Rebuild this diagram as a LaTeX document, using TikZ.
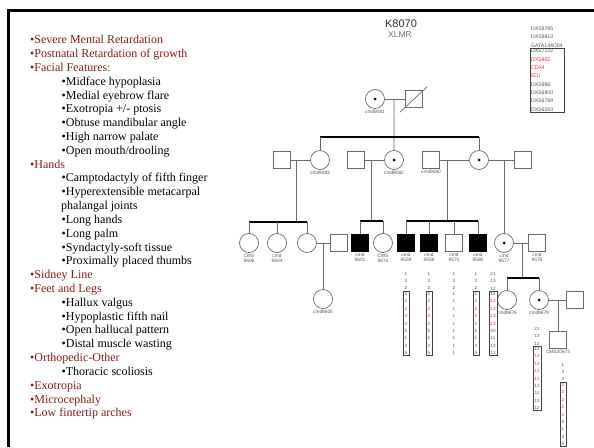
\documentclass[tikz,border=0pt]{standalone}
\usepackage{fontspec}
\setmainfont{Liberation Serif}
\setsansfont{Liberation Sans}
\usepackage{xcolor}
\usetikzlibrary{calc,positioning}
\definecolor{traitred}{RGB}{140,24,24}
\definecolor{pedgray}{RGB}{105,105,105}
\definecolor{labgray}{RGB}{85,85,85}
\definecolor{hapred}{RGB}{225,40,60}
\newcommand\rd[1]{\textcolor{hapred}{#1}}
\newcommand\traitA[1]{\textcolor{traitred}{•#1}}
\newcommand\traitB[1]{\hspace*{31.5pt}•#1}
\tikzset{
  male/.style={draw=pedgray, line width=0.7pt, fill=white, minimum size=17pt, inner sep=0pt},
  affected/.style={male, fill=black, draw=black},
  female/.style={draw=pedgray, line width=0.7pt, fill=white, circle, minimum size=19pt, inner sep=0pt},
  carrier/.style={female, path picture={\fill[black] (path picture bounding box.center) circle (1.5pt);}},
  idlabel/.style={font=\sffamily\fontsize{4.8}{5.8}\selectfont, text=labgray, inner sep=0.6pt, align=center},
  couple/.style={draw=pedgray, line width=0.7pt},
  sibship/.style={draw=black, line width=1.5pt},
  hapnum/.style={font=\sffamily\fontsize{4.6}{7.4}\selectfont, text=labgray, align=center, inner sep=0.8pt},
  hapbox/.style={hapnum, draw=black!75, line width=0.5pt, inner xsep=1.5pt},
  mknum/.style={font=\sffamily\fontsize{5.2}{8.3}\selectfont, text=labgray, align=left, inner sep=0.8pt, text width=32pt},
  mkbox/.style={mknum, draw=black!75, line width=0.5pt},
  traits/.style={font=\fontsize{12}{13.82}\selectfont, align=left, inner sep=0pt}
}

\begin{document}
\begin{tikzpicture}[x=1pt,y=-1pt]
  \useasboundingbox (0,0) rectangle (594,447);
  % slide frame
  \draw[line width=3pt] (8,447) -- (8,10) -- (594,10);

  % clinical features
  \node[traits, anchor=north west] (traits) at (30,35.2) {%
    \traitA{Severe Mental Retardation}\\
    \traitA{Postnatal Retardation of growth}\\
    \traitA{Facial Features:}\\
    \traitB{Midface hypoplasia}\\
    \traitB{Medial eyebrow flare}\\
    \traitB{Exotropia +/- ptosis}\\
    \traitB{Obtuse mandibular angle}\\
    \traitB{High narrow palate}\\
    \traitB{Open mouth/drooling}\\
    \traitA{Hands}\\
    \traitB{Camptodactyly of fifth finger}\\
    \traitB{Hyperextensible metacarpal}\\
    \hspace*{31pt}phalangal joints\\
    \traitB{Long hands}\\
    \traitB{Long palm}\\
    \traitB{Syndactyly-soft tissue}\\
    \traitB{Proximally placed thumbs}\\
    \traitA{Sidney Line}\\
    \traitA{Feet and Legs}\\
    \traitB{Hallux valgus}\\
    \traitB{Hypoplastic fifth nail}\\
    \traitB{Open hallucal pattern}\\
    \traitB{Distal muscle wasting}\\
    \traitA{Orthopedic-Other}\\
    \traitB{Thoracic scoliosis}\\
    \traitA{Exotropia}\\
    \traitA{Microcephaly}\\
    \traitA{Low fintertip arches}};

  % title
  \node[font=\sffamily\fontsize{11}{12}\selectfont, text=black!80] (title) at (401,24) {K8070};
  \node[font=\sffamily\fontsize{8.5}{9}\selectfont, text=black!55] (subtitle) at (400,35) {XLMR};

  % marker list
  \node[mknum, anchor=north] (mkt) at (547,26) {DXS8795\\DXS8810\\GATA144D04};
  \node[mkbox, below=0pt of mkt] (mkb) {DXS7132\\\rd{DXS802}\\\rd{CDX4}\\\rd{ED1}\\DXS986\\DXS6800\\DXS6789\\DXS6593};

  % generation I
  \node[carrier, label={[idlabel]below:cmd9081}] (g1f) at (375,99) {};
  \node[male] (g1m) at (414,99) {};
  \draw[couple] ($(g1m.south west)+(-5.5,4.5)$) -- ($(g1m.north east)+(4.5,-3.5)$);

  % generation II
  \node[male] (g2a) at (282,160) {};
  \node[female, label={[idlabel]below:cmd9083}] (g2b) at (320,160) {};
  \node[male] (g2c) at (356,160) {};
  \node[carrier, label={[idlabel]below:cmd9082}] (g2d) at (394,160) {};
  \node[male, label={[idlabel]below:cmd9080}] (g2e) at (431,160) {};
  \node[carrier] (g2f) at (479,160) {};
  \node[male] (g2g) at (523,160) {};

  % generation III
  \node[female, label={[idlabel]below:{CMS\\9606}}] (g3a) at (249,243) {};
  \node[female, label={[idlabel]below:{cmd\\9604}}] (g3b) at (277,243) {};
  \node[female] (g3c) at (307,243) {};
  \node[male] (g3d) at (339,243) {};
  \node[affected, label={[idlabel]below:{cmd\\9601}}] (g3e) at (360,243) {};
  \node[female, label={[idlabel]below:{CMS\\9674}}] (g3f) at (383,243) {};
  \node[affected, label={[idlabel]below:{cmd\\9559}}] (g3g) at (406,243) {};
  \node[affected, label={[idlabel]below:{cmd\\9558}}] (g3h) at (429,243) {};
  \node[male, label={[idlabel]below:{cmd\\9575}}] (g3i) at (454,243) {};
  \node[affected, label={[idlabel]below:{cmd\\9580}}] (g3j) at (478,243) {};
  \node[carrier, label={[idlabel]below:{cmd\\9577}}] (g3k) at (504,243) {};
  \node[male, label={[idlabel]below:{cmd\\9578}}] (g3l) at (537,243) {};

  % generation IV and V
  \node[female, label={[idlabel]below:cmd9605}] (g4a) at (323,299) {};
  \node[female, label={[idlabel]below:cmd9676}] (g4b) at (507,300) {};
  \node[carrier, label={[idlabel]below:cmd9679}] (g4c) at (539,300) {};
  \node[male] (g4d) at (575,300) {};
  \node[male, label={[idlabel]below:CMS20673}] (g5a) at (558,340) {};

  % couples and descent lines
  \draw[couple] (g1f) -- (g1m);
  \coordinate (g1c) at ($(g1f.east)!0.45!(g1m.west)$);
  \coordinate (sib2) at (394,137);
  \draw[couple] (g1c) -- (g2d.north);
  \draw[sibship] (g2b |- sib2) -- (g2f |- sib2);
  \draw[couple] (g2b |- sib2) -- (g2b.north);
  \draw[couple] (g2f |- sib2) -- (g2f.north);

  \draw[couple] (g2a) -- (g2b);
  \coordinate (g2ab) at ($(g2a.east)!0.28!(g2b.west)$);
  \coordinate (sib3a) at (296,222);
  \draw[couple] (g2ab) -- (g2ab |- sib3a);
  \draw[sibship] (g3a |- sib3a) -- (g3c |- sib3a);
  \draw[couple] (g3a |- sib3a) -- (g3a.north);
  \draw[couple] (g3b |- sib3a) -- (g3b.north);
  \draw[couple] (g3c |- sib3a) -- (g3c.north);

  \draw[couple] (g2c) -- (g2d);
  \coordinate (g2cd) at ($(g2c.east)!0.33!(g2d.west)$);
  \coordinate (sib3b) at (371,221);
  \draw[couple] (g2cd) -- (g2cd |- sib3b);
  \draw[sibship] (g3e |- sib3b) -- (g3f |- sib3b);
  \draw[couple] (g3e |- sib3b) -- (g3e.north);
  \draw[couple] (g3f |- sib3b) -- (g3f.north);

  \draw[couple] (g2e) -- (g2f);
  \coordinate (g2ef) at ($(g2e.east)!0.25!(g2f.west)$);
  \coordinate (sib3c) at (447,221);
  \draw[couple] (g2ef) -- (g2ef |- sib3c);
  \draw[sibship] (g3g |- sib3c) -- (g3j |- sib3c);
  \draw[couple] (g3g |- sib3c) -- (g3g.north);
  \draw[couple] (g3h |- sib3c) -- (g3h.north);
  \draw[couple] (g3i |- sib3c) -- (g3i.north);
  \draw[couple] (g3j |- sib3c) -- (g3j.north);

  \draw[couple] (g2f) -- (g2g);
  \draw[couple] (g2f.east -| g3k) -- (g3k.north);

  \draw[couple] (g3c) -- (g3d);
  \draw[couple] (g3c.east -| g4a) -- (g4a.north);

  \draw[couple] (g3k) -- (g3l);
  \coordinate (g3kl) at ($(g3k.east)!0.57!(g3l.west)$);
  \coordinate (sib4) at (522,278);
  \draw[couple] (g3kl) -- (g3kl |- sib4);
  \draw[sibship] (g4b |- sib4) -- (g4c |- sib4);
  \draw[couple] (g4b |- sib4) -- (g4b.north);
  \draw[couple] (g4c |- sib4) -- (g4c.north);

  \draw[couple] (g4c) -- (g4d);
  \draw[couple] (g4c.east -| g5a) -- (g5a.north);

  % haplotypes
  \node[hapnum, anchor=north] (hap9559t) at (406,271) {1\\3\\2};
  \node[hapbox, below=0.3pt of hap9559t] (hap9559b) {2\\\rd{2}\\\rd{2}\\\rd{2}\\\rd{2}\\5\\1\\3\\5};
  \node[hapnum, anchor=north] (hap9558t) at (429,271) {1\\3\\2};
  \node[hapbox, below=0.3pt of hap9558t] (hap9558b) {2\\\rd{2}\\\rd{2}\\\rd{2}\\\rd{2}\\5\\1\\3\\5};
  \node[hapnum, anchor=north] (hap9575t) at (454,271) {1\\3\\2};
  \node[hapnum, below=0.3pt of hap9575t] (hap9575b) {1\\\rd{1}\\\rd{1}\\\rd{1}\\\rd{1}\\1\\1\\1\\1};
  \node[hapnum, anchor=north] (hap9580t) at (476,271) {1\\3\\2};
  \node[hapbox, below=0.3pt of hap9580t] (hap9580b) {2\\\rd{2}\\\rd{2}\\\rd{2}\\\rd{2}\\5\\1\\3\\5};
  \node[hapnum, anchor=north] (hap9577t) at (493,271) {21\\13\\12};
  \node[hapbox, below=0.3pt of hap9577t] (hap9577b) {14\\\rd{13}\\\rd{13}\\\rd{13}\\\rd{13}\\40\\11\\13\\13};
  \node[hapnum, anchor=north] (hap9679t) at (537,326) {21\\13\\12};
  \node[hapbox, below=0.3pt of hap9679t] (hap9679b) {12\\\rd{12}\\\rd{12}\\\rd{12}\\\rd{12}\\12\\11\\13\\12};
  \node[hapnum, anchor=north] (hap20673t) at (563,362) {1\\3\\2};
  \node[hapbox, below=0.3pt of hap20673t] (hap20673b) {2\\\rd{2}\\\rd{2}\\\rd{2}\\\rd{2}\\5\\1\\3\\5};
\end{tikzpicture}
\end{document}
